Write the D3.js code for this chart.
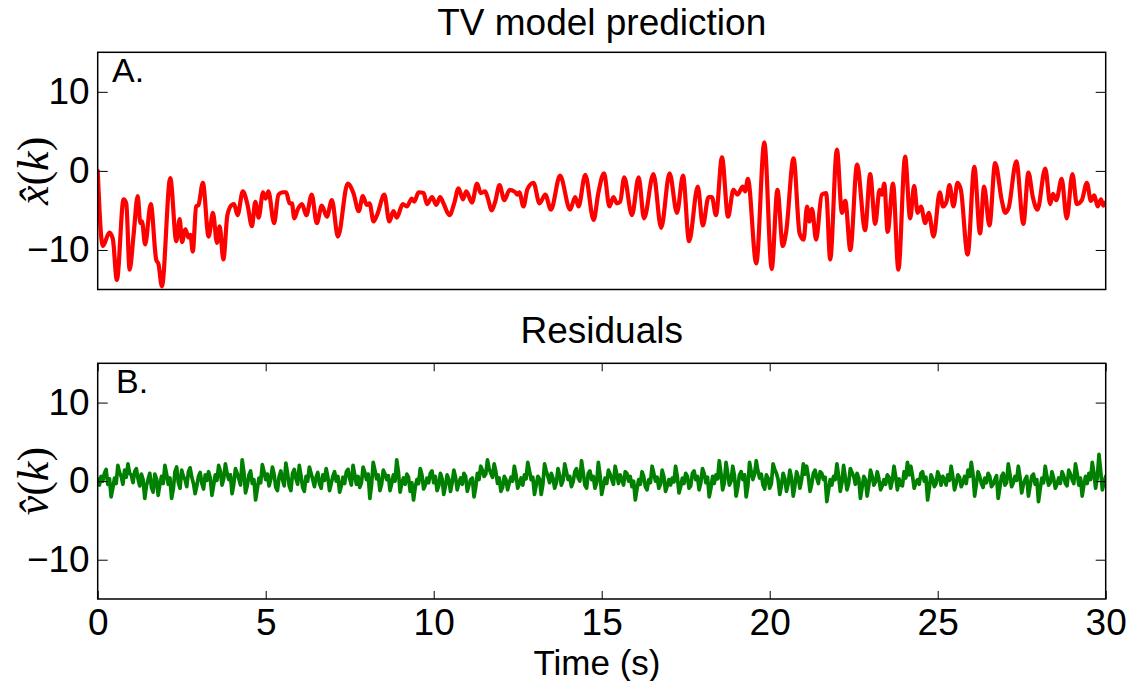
<!DOCTYPE html>
<html>
<head>
<meta charset="utf-8">
<script src="https://cdn.jsdelivr.net/npm/d3@7"></script>
<style>
  body { margin: 0; background: #fff; }
  svg text { font-family: "Liberation Sans", Arial, Helvetica, sans-serif; fill: #000; }
</style>
</head>
<body>
<svg id="chart" width="1131" height="681"></svg>
<script>
// Model prediction x̂(k): sample times (s) and values
const predTimes = [
  0, 0.15, 0.35, 0.45, 0.57, 0.77, 0.85, 0.95, 1.07, 1.19,
  1.27, 1.32, 1.41, 1.58, 1.74, 1.81, 1.91, 2.16, 2.34, 2.44,
  2.51, 2.61, 2.70, 2.76, 2.83, 2.93, 3.0, 3.13, 3.30, 3.43,
  3.55, 3.63, 3.74, 3.86, 3.99, 4.06, 4.16, 4.32, 4.46, 4.59,
  4.69, 4.79, 4.92, 5.0, 5.08, 5.25, 5.38, 5.51, 5.61, 5.71,
  5.78, 5.85, 5.95, 6.08, 6.21, 6.37, 6.52, 6.67, 6.82, 6.97,
  7.15, 7.44, 7.61, 7.77, 7.89, 8.01, 8.09, 8.21, 8.33, 8.53,
  8.68, 8.80, 8.90, 9.08, 9.20, 9.35, 9.42, 9.55, 9.70, 9.80,
  9.95, 10.08, 10.19, 10.29, 10.47, 10.61, 10.74, 10.87, 10.97, 11.14,
  11.29, 11.40, 11.53, 11.60, 11.73, 11.83, 11.96, 12.10, 12.26, 12.43,
  12.49, 12.55, 12.67, 12.79, 12.97, 13.15, 13.32, 13.49, 13.76, 14.06,
  14.21, 14.31, 14.51, 14.76, 14.90, 15.07, 15.23, 15.35, 15.45, 15.55,
  15.67, 15.90, 16.10, 16.26, 16.54, 16.77, 17.02, 17.24, 17.42, 17.60,
  17.86, 18.01, 18.18, 18.28, 18.40, 18.58, 18.76, 18.92, 19.04, 19.20,
  19.27, 19.35, 19.60, 19.84, 20.06, 20.23, 20.39, 20.49, 20.71, 20.89,
  21.01, 21.11, 21.18, 21.26, 21.38, 21.55, 21.68, 21.80, 22.00, 22.15,
  22.25, 22.40, 22.60, 22.84, 22.99, 23.14, 23.27, 23.34, 23.41, 23.51,
  23.67, 23.83, 24.03, 24.18, 24.30, 24.40, 24.50, 24.63, 24.73, 24.88,
  25.06, 25.16, 25.26, 25.35, 25.47, 25.59, 25.69, 25.89, 26.09, 26.26,
  26.38, 26.54, 26.71, 26.91, 27.01, 27.11, 27.34, 27.55, 27.70, 27.83,
  27.97, 28.20, 28.35, 28.43, 28.53, 28.69, 28.84, 29.01, 29.14, 29.29,
  29.44, 29.56, 29.66, 29.76, 29.86, 29.93, 30.0
];
const predValues = [
  0, -9.5, -7.8, -8.6, -13.8, -3.6, -4.1, -12.5, -8.0, -3.2,
  -6.6, -6.4, -9.3, -4.2, -11.2, -11.8, -14.6, -0.9, -8.9, -6.1,
  -9.0, -7.4, -8.4, -8.1, -10.2, -4.5, -4.3, -1.5, -8.3, -5.3,
  -9.1, -7.0, -11.2, -5.6, -4.3, -4.2, -5.6, -2.6, -4.3, -7.0,
  -3.9, -5.9, -2.7, -3.5, -2.6, -6.6, -3.0, -2.7, -2.7, -4.1,
  -4.1, -6.0, -4.9, -4.2, -5.6, -3.0, -6.6, -4.4, -5.8, -3.7,
  -8.3, -1.6, -2.8, -5.1, -3.2, -4.3, -4.1, -6.4, -5.4, -3.0,
  -6.4, -5.1, -5.9, -4.2, -4.5, -3.5, -3.9, -2.7, -2.8, -4.2,
  -3.3, -4.3, -3.3, -4.1, -5.6, -4.1, -2.2, -3.6, -2.6, -4.0,
  -1.6, -2.8, -2.6, -3.3, -5.0, -3.9, -1.8, -3.7, -2.4, -2.7,
  -3.0, -2.7, -4.5, -2.3, -1.5, -4.1, -3.0, -4.9, -0.6, -4.9,
  -3.3, -4.5, -0.5, -6.2, -2.8, -0.3, -4.5, -3.3, -4.1, -3.9,
  -0.8, -5.6, -0.8, -6.0, -0.4, -7.2, -0.3, -5.3, -0.6, -8.9,
  -2.0, -6.9, -3.3, -3.3, -5.6, 1.7, -5.8, -2.4, -3.0, -2.0,
  -2.6, -1.0, -11.7, 3.6, -12.4, -2.4, -9.5, -7.7, 1.6, -7.9,
  -8.7, -4.5, -6.4, -4.8, -8.7, -3.0, -2.8, -11.2, 2.7, -5.3,
  -3.8, -10.0, 0.8, -7.5, -0.4, -6.7, -2.4, -3.0, -1.6, -7.7,
  -1.6, -12.5, 1.8, -6.0, -1.9, -5.3, -4.5, -6.6, -5.3, -8.3,
  -2.7, -4.5, -3.9, -1.8, -4.5, -1.5, -2.4, -10.6, 0.5, -7.9,
  -2.0, -6.9, 1.0, -3.8, -5.3, -4.7, 1.2, -6.7, -0.2, -3.3,
  -4.9, 0.3, -4.2, -2.9, -3.7, -1.0, -6.0, -0.4, -4.2, -3.7,
  -1.5, -3.8, -3.1, -4.5, -3.6, -4.4, -4.0
];

// Residuals v̂(k), sampled every residStep seconds from t = 0
const residStep = 0.05;
const residValues = [
  0.3, -0.5, 0.6, 0.0, 1.0, 1.5, -0.4, 0.3, -2.0, -0.9, 0.4, -0.3, 2.0, 1.1, 0.6, -0.4, 1.4, 0.5, 2.2, 1.0,
  0.8, -0.2, 1.2, 1.6, 0.3, -0.6, 0.9, 0.2, -2.2, -0.6, 0.2, 1.0, -0.8, -1.4, 0.9, 0.3, -1.8, -0.4, 0.6, -0.3,
  2.0, 0.9, -0.4, 0.4, -2.2, -1.0, 1.2, 1.8, -0.2, -0.9, 1.4, 0.6, 0.2, -0.7, 1.2, 1.7, 0.5, -0.3, -1.6, -0.6,
  0.6, 1.1, -0.3, -1.0, 0.8, 0.1, 1.2, 0.4, -1.8, -0.5, 0.8, 0.1, 2.0, 1.3, -0.5, 0.3, 2.2, 1.0, 0.2, 0.8,
  -1.6, -0.4, 1.6, 1.0, 0.3, -0.5, 2.7, 1.2, -1.5, -0.6, 0.8, 1.3, -0.3, 0.2, -2.4, -1.0, 0.4, -0.2, 2.1, 1.2,
  0.2, 0.9, -0.6, 0.2, 1.8, 0.9, -0.8, -1.2, 0.6, 1.3, 0.2, -0.6, 2.3, 1.0, -0.6, -1.2, 1.0, 1.5, 0.3, -0.4,
  2.0, 0.7, -0.8, -1.3, 0.6, 0.0, 1.8, 1.0, 0.2, -0.7, 0.5, 1.1, -0.3, -0.9, 0.8, 0.1, 1.6, 0.5, -1.2, -0.3,
  0.6, 1.2, 0.0, 0.6, -1.4, -0.6, 0.5, -0.3, 1.2, 1.5, 0.3, -0.5, 2.0, 0.8, -0.4, 0.6, -0.8, -0.2, 1.8, 1.1,
  0.2, 0.9, -2.2, -0.5, 2.4, 1.4, 0.3, 0.8, -1.2, -0.4, 1.4, 0.9, 0.2, 0.7, -1.2, -0.3, 0.8, 0.0, 2.7, 1.2,
  -1.4, -0.3, 0.4, -0.4, 0.9, 0.5, -1.3, -0.2, -2.4, -0.8, 0.2, -0.3, 1.6, 0.8, -1.0, -0.5, 0.4, -0.2, 1.0, 1.3,
  -0.2, 0.6, -1.2, -0.6,
  1.0, 0.3, -1.7, -0.6, 0.8, 0.2, -1.3, -0.2, 1.4, 0.5, -1.1, -0.2, 0.4, -0.4, 1.0, 0.6, -1.3, -0.5, 0.2, 0.4,
  -2.0, -0.8, 1.0, 0.2, 1.9, 1.4, 0.6, 0.9, 2.7, 1.6, 1.0, 0.5, 2.2, 1.2, -0.3, 0.4, -1.3, -0.8, 0.6, 0.2,
  -1.1, -0.2, 0.5, 0.0, 1.9, 0.8, -0.9, -0.3, 0.4, -0.5, 0.8, 0.3, 2.4, 1.3, 0.2, 0.5, -1.7, -0.5, 0.6, 0.3,
  -1.7, -0.4, 2.2, 1.3, 0.6, -0.2, 1.0, 0.4, -0.9, -0.2, 1.6, 0.7, -0.5, 0.1, 2.2, 1.2, 0.2, 0.6, -0.7, -0.1,
  1.2, 1.6, 0.4, 0.0, 2.6, 1.1, -0.5, -0.9, 1.0, 1.3, 0.2, 0.6, -0.9, -0.2, 2.4, 0.8, -1.7, -0.6, 0.4, -0.3,
  1.4, 0.9, 0.2, -0.4, 1.9, 0.9, -0.3, 0.8, 0.2, -0.5, 1.2, 1.0, 0.0, 0.6, -0.7, 0.0, -2.4, -1.0, 0.2, -0.4,
  1.2, 0.6, -0.7, -1.1, 0.2, -0.2, 1.9, 1.0, 0.0, 0.5, -0.9, -0.4, 1.4, 0.6, -1.3, -0.6, 0.2, -0.5, 0.4, -0.1,
  1.9, 0.6, -1.5, -0.7, 0.4, -0.3, 1.0, 0.6, -0.9, -0.6, 1.0, 1.3, 0.2, 0.6, -1.1, -0.2, 1.6, 1.0, -0.2, 0.5,
  -2.0, -0.9, 0.6, -0.3, 0.8, 0.3, 2.6, 1.0, -1.1, -0.2, 2.4, 1.0, -0.5, 0.0, 1.9, 0.7, -1.9, -0.8, 0.8, 1.2,
  0.2, 0.8, -2.0, -0.6, 2.4, 1.2, 0.2, 0.9, 2.6, 1.3, 0.4, 0.9, -0.5, -1.0, 0.8, 0.4, -0.9, -0.3, 2.2, 1.5,
  1.0, 0.2, -1.7, -0.5, 1.0, 0.3, -1.3, -0.3, 1.4, 0.4, -1.9, -0.6, 1.2, 0.5, -0.9, 0.2, 2.2, 0.9, 1.9, 0.6,
  -1.3, -0.4, 1.0, 1.4, 0.4, -0.3, 1.2, 1.0, 0.2, 0.5, -2.6, -1.2, 0.2, -0.5, 0.6, 0.2, 2.2, 0.7, -1.3, -0.2,
  2.0, 0.5, -1.1, -0.3, 1.6, 1.1, 0.6, -0.4, 1.0, 0.4, -2.2, -0.8, 0.6, 0.2, -1.9, -0.5, 1.4, 0.6, -0.5, -0.1,
  1.2, 0.3, -1.1, -0.6, 0.2, -0.4, 0.8, 0.5, -0.9, 0.1, 1.9, 0.6, -1.1, 0.3, -0.5, -0.6, 1.2, 0.4, 2.4, 0.8,
  1.9, 0.7, -0.9, -0.2, 0.2, -0.4, 1.0, 1.2, 0.0, 0.5, -2.4, -0.9, 0.8, 0.3, -0.7, -0.3, 1.2, 0.6, -0.5, 0.6,
  0.2, -0.5, 0.8, 0.1, 1.9, 0.6, -1.1, -0.3, 0.8, 0.5, -0.7, -0.2, 0.6, -0.3, 1.4, 0.6, 2.4, 0.9, -1.9, -0.4,
  1.2, 0.6, -0.3, -0.8, 0.4, -0.2, 1.0, 0.6, -0.7, -0.4, 0.2, 0.7, -2.2, -0.8, 0.6, 1.0, -0.5, -0.2, 2.2, 0.9,
  -0.7, -0.2, 0.6, 0.1, 1.9, 0.5, -1.5, -0.4, 0.2, 0.6, -1.9, -0.6, 0.6, 0.9, -0.4, 0.2, -2.6, -1.0, 0.4, -0.2,
  1.9, 0.6, -0.5, -0.2, 1.2, 0.4, -0.9, -0.4, 0.4, -0.3, 1.2, 0.7, -0.3, -0.6, 1.4, 0.9, 0.2, -0.3, 2.2, 1.0,
  -0.5, 0.4, -1.9, -0.5, 0.6, -0.3, 1.0, 0.2, 2.4, 1.0, -0.9, 0.5, 3.4, 1.3, -1.1, -0.2, 0.6
];

// Axis ticks and labels
const xTicks = [0, 5, 10, 15, 20, 25, 30];
const yTicks = [-10, 0, 10];
const xDomain = [0, 30];
const yDomain = [-15, 15];
const panelTitles = ["TV model prediction", "Residuals"];
const panelTags = ["A.", "B."];
const ySymbols = ["x", "v"];
const xTitle = "Time (s)";

const svg = d3.select("#chart");
svg.append("rect").attr("width", 1131).attr("height", 681).attr("fill", "#fff");

const FONT = 37;
const left = 97.7, right = 1105.7;
const x = d3.scaleLinear().domain(xDomain).range([left, right]);

const panels = [
  { top: 52.3, bottom: 289.5, color: "#ff0000", width: 4.2, showX: false,
    points: predTimes.map((t, i) => [t, predValues[i]]), curve: d3.curveMonotoneX, titleY: 35 },
  { top: 363.3, bottom: 599, color: "#008000", width: 3.7, showX: true,
    points: residValues.map((v, i) => [i * residStep, v]), curve: d3.curveLinear, titleY: 343 }
];

panels.forEach((p, idx) => {
  const y = d3.scaleLinear().domain(yDomain).range([p.bottom, p.top]);
  const g = svg.append("g");

  // clip the trace to the axes box
  const clipId = "clip" + idx;
  svg.append("clipPath").attr("id", clipId)
    .append("rect").attr("x", left).attr("y", p.top)
    .attr("width", right - left).attr("height", p.bottom - p.top);

  const line = d3.line().x(d => x(d[0])).y(d => y(d[1])).curve(p.curve);
  g.append("path")
    .datum(p.points)
    .attr("clip-path", `url(#${clipId})`)
    .attr("fill", "none")
    .attr("stroke", p.color)
    .attr("stroke-width", p.width)
    .attr("stroke-linejoin", "round")
    .attr("stroke-linecap", "round")
    .attr("d", line);

  // y axes: labelled on the left, bare ticks on the right, both pointing inward
  const yl = g.append("g").attr("transform", `translate(${left},0)`)
    .call(d3.axisLeft(y).tickValues(yTicks).tickSize(-10).tickPadding(8).tickFormat(d3.format("d")));
  const yr = g.append("g").attr("transform", `translate(${right},0)`)
    .call(d3.axisRight(y).tickValues(yTicks).tickSize(-10).tickFormat(""));
  [yl, yr].forEach(a => {
    a.select(".domain").remove();
    a.selectAll(".tick line").attr("stroke", "#000").attr("stroke-width", 1);
    a.selectAll("text").attr("font-size", FONT).attr("font-family", null).attr("fill", "#000");
  });

  if (p.showX) {
    const xb = g.append("g").attr("transform", `translate(0,${p.bottom})`)
      .call(d3.axisBottom(x).tickValues(xTicks).tickSize(-8).tickPadding(10).tickFormat(d3.format("d")));
    const xt = g.append("g").attr("transform", `translate(0,${p.top})`)
      .call(d3.axisTop(x).tickValues(xTicks).tickSize(-8).tickFormat(""));
    [xb, xt].forEach(a => {
      a.select(".domain").remove();
      a.selectAll(".tick line").attr("stroke", "#000").attr("stroke-width", 1);
      a.selectAll("text").attr("font-size", FONT).attr("font-family", null).attr("fill", "#000");
    });
  }

  // axes box
  g.append("rect")
    .attr("x", left).attr("y", p.top)
    .attr("width", right - left).attr("height", p.bottom - p.top)
    .attr("fill", "none").attr("stroke", "#000").attr("stroke-width", 1.5);

  // panel title
  svg.append("text")
    .attr("x", (left + right) / 2).attr("y", p.titleY)
    .attr("text-anchor", "middle").attr("font-size", FONT)
    .text(panelTitles[idx]);

  // panel tag
  svg.append("text")
    .attr("x", idx === 0 ? 112 : 116).attr("y", p.top + 30)
    .attr("font-size", 34)
    .text(panelTags[idx]);

  // y label, e.g. x̂(k)
  const cy = (p.top + p.bottom) / 2;
  const lab = svg.append("text")
    .attr("transform", `translate(48,${cy}) rotate(-90)`)
    .attr("text-anchor", "middle")
    .style("font-family", "'Liberation Serif', 'DejaVu Serif', serif")
    .attr("font-size", 44);
  lab.append("tspan").attr("font-style", "italic").text(ySymbols[idx] + "\u0302");
  lab.append("tspan").text("(");
  lab.append("tspan").attr("font-style", "italic").text("k");
  lab.append("tspan").text(")");
});

// x axis title
svg.append("text")
  .attr("x", 597).attr("y", 675)
  .attr("text-anchor", "middle").attr("font-size", 35)
  .text(xTitle);
</script>
</body>
</html>
